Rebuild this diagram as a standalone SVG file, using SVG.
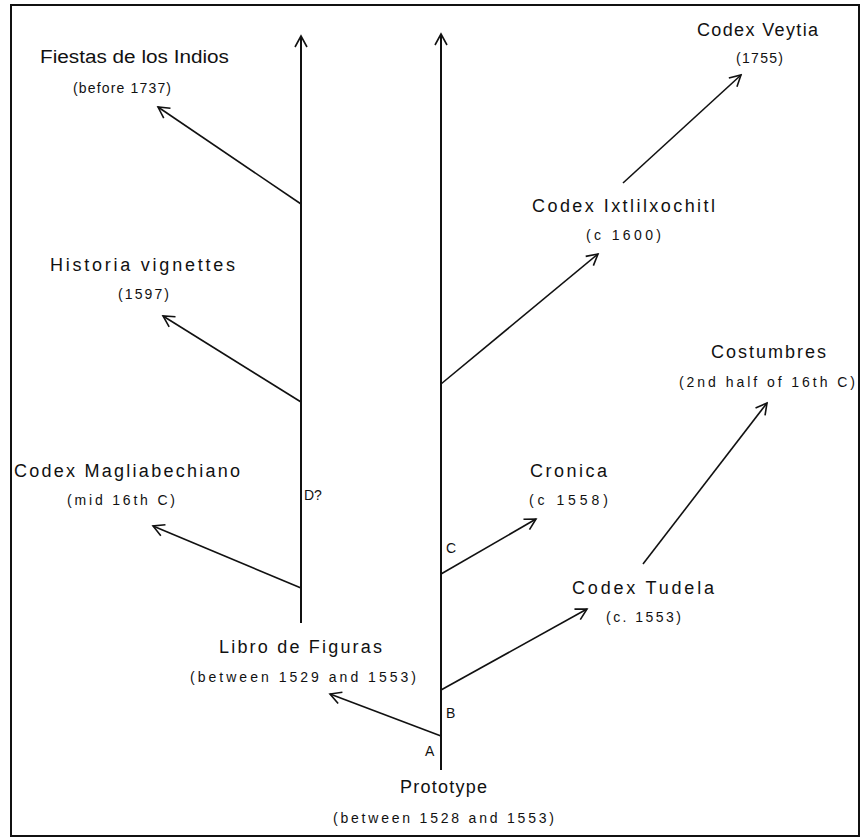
<svg xmlns="http://www.w3.org/2000/svg" width="867" height="838" viewBox="0 0 867 838">
<style>
text{font-family:"Liberation Sans",Arial,sans-serif;fill:#111}
.t{font-size:18px}
.d{font-size:14px}
.l{font-size:14px}
.ln{stroke:#111;stroke-width:1.6;fill:none}
.v{stroke:#111;stroke-width:2;fill:none}
</style>
<defs>
<marker id="ah" viewBox="0 0 14 14" refX="12" refY="7" markerWidth="14" markerHeight="14" markerUnits="userSpaceOnUse" orient="auto">
<path d="M1,1 L12,7 L1,13" fill="none" stroke="#111" stroke-width="1.6"/>
</marker>
</defs>
<rect x="11" y="5" width="848" height="831" fill="#fff" stroke="#111" stroke-width="2"/>
<g id="connectors">
<line class="v" x1="441" y1="770" x2="441" y2="34" marker-end="url(#ah)"/>
<line class="v" x1="301" y1="623" x2="301" y2="36" marker-end="url(#ah)"/>
<line class="ln" x1="301" y1="204" x2="158" y2="107" marker-end="url(#ah)"/>
<line class="ln" x1="301" y1="402" x2="163" y2="316" marker-end="url(#ah)"/>
<line class="ln" x1="301" y1="588" x2="153" y2="526" marker-end="url(#ah)"/>
<line class="ln" x1="623" y1="183" x2="741" y2="75" marker-end="url(#ah)"/>
<line class="ln" x1="441" y1="384" x2="598" y2="254" marker-end="url(#ah)"/>
<line class="ln" x1="643" y1="564" x2="767" y2="403" marker-end="url(#ah)"/>
<line class="ln" x1="441" y1="574" x2="536" y2="519" marker-end="url(#ah)"/>
<line class="ln" x1="441" y1="690" x2="587" y2="609" marker-end="url(#ah)"/>
<line class="ln" x1="441" y1="736" x2="330" y2="694" marker-end="url(#ah)"/>
</g>
<g id="fiestas"><text class="t" x="40" y="63" textLength="189" lengthAdjust="spacingAndGlyphs">Fiestas de los Indios</text><text class="d" x="73" y="93" textLength="98" lengthAdjust="spacing">(before 1737)</text></g>
<g id="veytia"><text class="t" x="697" y="36" textLength="121" lengthAdjust="spacing">Codex Veytia</text><text class="d" x="736" y="63" textLength="47" lengthAdjust="spacing">(1755)</text></g>
<g id="ixtlilxochitl"><text class="t" x="532" y="212" textLength="183" lengthAdjust="spacing">Codex Ixtlilxochitl</text><text class="d" x="586" y="240" textLength="75" lengthAdjust="spacing">(c  1600)</text></g>
<g id="historia"><text class="t" x="50" y="271" textLength="185" lengthAdjust="spacing">Historia  vignettes</text><text class="d" x="118" y="299" textLength="51" lengthAdjust="spacing">(1597)</text></g>
<g id="costumbres"><text class="t" x="711" y="358" textLength="115" lengthAdjust="spacing">Costumbres</text><text class="d" x="679" y="387" textLength="176" lengthAdjust="spacing">(2nd half of 16th  C)</text></g>
<g id="magliabechiano"><text class="t" x="14" y="477" textLength="226" lengthAdjust="spacing">Codex Magliabechiano</text><text class="d" x="67" y="505" textLength="108" lengthAdjust="spacing">(mid 16th C)</text></g>
<g id="d"><text class="l" x="304" y="500">D?</text></g>
<g id="cronica"><text class="t" x="530" y="477" textLength="77" lengthAdjust="spacing">Cronica</text><text class="d" x="529" y="505" textLength="79" lengthAdjust="spacing">(c  1558)</text></g>
<g id="c"><text class="l" x="446" y="553">C</text></g>
<g id="tudela"><text class="t" x="572" y="594" textLength="142" lengthAdjust="spacing">Codex  Tudela</text><text class="d" x="606" y="622" textLength="75" lengthAdjust="spacing">(c. 1553)</text></g>
<g id="libro"><text class="t" x="219" y="653" textLength="163" lengthAdjust="spacing">Libro de Figuras</text><text class="d" x="190" y="682" textLength="226" lengthAdjust="spacing">(between 1529 and 1553)</text></g>
<g id="b"><text class="l" x="446" y="718">B</text></g>
<g id="a"><text class="l" x="425" y="756">A</text></g>
<g id="prototype"><text class="t" x="400" y="793" textLength="87" lengthAdjust="spacing">Prototype</text><text class="d" x="333" y="823" textLength="221" lengthAdjust="spacing">(between 1528 and 1553)</text></g>
</svg>
